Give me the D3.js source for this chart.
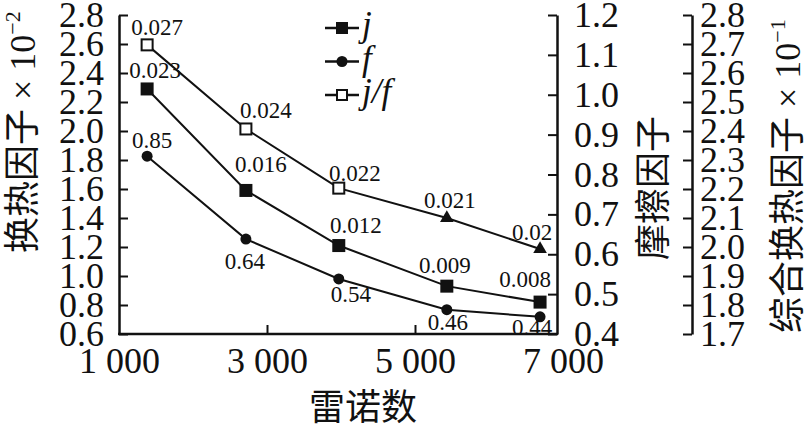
<!DOCTYPE html>
<html>
<head>
<meta charset="utf-8">
<script src="https://cdn.jsdelivr.net/npm/d3@7"></script>
<style>
  html, body { margin: 0; padding: 0; background: #fff; }
  svg { display: block; }
</style>
</head>
<body>
<svg id="chart" width="805" height="425"></svg>
<script>
// ---------------- data ----------------
const reynolds   = [1380, 2715, 3970, 5430, 6690];
const jValues    = [2.29, 1.59, 1.21, 0.93, 0.82];      // ×10^-2, left axis
const fValues    = [0.846, 0.638, 0.538, 0.461, 0.443]; // friction axis
const jfValues   = [2.697, 2.407, 2.203, 2.10, 1.993];  // ×10^-1, third axis
const jLabels    = ["0.023", "0.016", "0.012", "0.009", "0.008"];
const fLabels    = ["0.85", "0.64", "0.54", "0.46", "0.44"];
const jfLabels   = ["0.027", "0.024", "0.022", "0.021", "0.02"];
const jfSymbols  = ["square", "square", "square", "triangle", "triangle"];

const xTickValues    = [1000, 3000, 5000, 7000];
const leftTickValues = [0.6, 0.8, 1.0, 1.2, 1.4, 1.6, 1.8, 2.0, 2.2, 2.4, 2.6, 2.8];
const fTickValues    = [0.4, 0.5, 0.6, 0.7, 0.8, 0.9, 1.0, 1.1, 1.2];
const jfTickValues   = [1.7, 1.8, 1.9, 2.0, 2.1, 2.2, 2.3, 2.4, 2.5, 2.6, 2.7, 2.8];

const legendItems = ["j", "f", "j/f"];

// label offsets (layout only): [dx, dy] relative to point
const jfLabelOffsets = [[10, -10], [20, -11], [16, -7], [3, -10], [-8, -9]];
const jLabelOffsets  = [[8, -11], [15, -18], [17, -13], [-2, -13], [-15, -15]];
const fLabelOffsets  = [[5, -8], [-1, 30], [12, 23], [1, 20], [-8, 18]];

// ---------------- layout ----------------
const serif = "'Liberation Serif', 'Times New Roman', serif";
const cjk = "'Noto Sans CJK SC', sans-serif";
const plotLeft = 119, plotRight = 557, plotTop = 15, plotBottom = 334;
const thirdAxisX = 692;
const tickFont = 36;

const svg = d3.select("#chart");
const x   = d3.scaleLinear().domain([1000, 7000]).range([plotLeft, 563]);
const yJ  = d3.scaleLinear().domain([0.6, 2.8]).range([plotBottom, plotTop]);
const yF  = d3.scaleLinear().domain([0.4, 1.2]).range([plotBottom, plotTop]);
const yJF = d3.scaleLinear().domain([1.7, 2.8]).range([plotBottom, plotTop]);

function styleAxis(g, size) {
  g.selectAll("path.domain").attr("stroke", "#111").attr("stroke-width", 2.5);
  g.selectAll(".tick line").attr("stroke", "#111").attr("stroke-width", 2);
  g.selectAll(".tick text").attr("font-family", serif).attr("font-size", size).attr("fill", "#111");
}

// left axis
const gL = svg.append("g").attr("transform", `translate(${plotLeft},0)`)
  .call(d3.axisLeft(yJ).tickValues(leftTickValues).tickFormat(d3.format(".1f"))
    .tickSizeInner(-9).tickSizeOuter(0).tickPadding(15));
styleAxis(gL, tickFont);

// friction axis
const gF = svg.append("g").attr("transform", `translate(${plotRight},0)`)
  .call(d3.axisRight(yF).tickValues(fTickValues).tickFormat(d3.format(".1f"))
    .tickSizeInner(-9).tickSizeOuter(0).tickPadding(17));
styleAxis(gF, tickFont);

// third axis
const gJF = svg.append("g").attr("transform", `translate(${thirdAxisX},0)`)
  .call(d3.axisRight(yJF).tickValues(jfTickValues).tickFormat(d3.format(".1f"))
    .tickSizeInner(-9).tickSizeOuter(0).tickPadding(8));
styleAxis(gJF, tickFont);

// bottom axis
const fmtX = d => d3.format(",")(d).replace(/,/g, " ");
const gX = svg.append("g").attr("transform", `translate(0,${plotBottom})`)
  .call(d3.axisBottom(x).tickValues(xTickValues).tickFormat(fmtX)
    .tickSizeInner(-9).tickSizeOuter(0).tickPadding(13));
gX.select("path.domain").remove();
gX.selectAll(".tick line").filter(d => x(d) <= plotLeft + 1 || x(d) >= plotRight - 1).remove();
styleAxis(gX, tickFont);
gX.append("line").attr("x1", plotLeft - 1).attr("x2", plotRight + 1)
  .attr("y1", 0).attr("y2", 0).attr("stroke", "#111").attr("stroke-width", 2.5);

// ---------------- series ----------------
const lineGen = (yScale, vals) => d3.line().x((d, i) => x(reynolds[i])).y((d, i) => yScale(vals[i]))(vals);
[[yJF, jfValues], [yJ, jValues], [yF, fValues]].forEach(([ys, vals]) => {
  svg.append("path").attr("d", lineGen(ys, vals))
    .attr("fill", "none").attr("stroke", "#111").attr("stroke-width", 2);
});

// j markers: filled squares
svg.selectAll("rect.j").data(jValues).enter().append("rect")
  .attr("x", (d, i) => x(reynolds[i]) - 6.5).attr("y", d => yJ(d) - 6.5)
  .attr("width", 13).attr("height", 13).attr("fill", "#111");

// f markers: filled circles
svg.selectAll("circle.f").data(fValues).enter().append("circle")
  .attr("cx", (d, i) => x(reynolds[i])).attr("cy", d => yF(d))
  .attr("r", 5.5).attr("fill", "#111");

// j/f markers
svg.selectAll("g.jf").data(jfValues).enter().append("g")
  .attr("transform", (d, i) => `translate(${x(reynolds[i])},${yJF(d)})`)
  .each(function (d, i) {
    const g = d3.select(this);
    if (jfSymbols[i] === "triangle") {
      g.append("path").attr("d", d3.symbol(d3.symbolTriangle, 80)()).attr("fill", "#111");
    } else {
      g.append("rect").attr("x", -5.5).attr("y", -5.5).attr("width", 11).attr("height", 11)
        .attr("fill", "#fff").attr("stroke", "#111").attr("stroke-width", 2);
    }
  });

// data labels
function addLabels(vals, yScale, labels, offsets) {
  svg.append("g").selectAll("text").data(vals).enter().append("text")
    .attr("x", (d, i) => x(reynolds[i]) + offsets[i][0])
    .attr("y", (d, i) => yScale(d) + offsets[i][1])
    .attr("text-anchor", "middle")
    .attr("font-family", serif).attr("font-size", 23).attr("fill", "#111")
    .text((d, i) => labels[i]);
}
addLabels(jfValues, yJF, jfLabels, jfLabelOffsets);
addLabels(jValues, yJ, jLabels, jLabelOffsets);
addLabels(fValues, yF, fLabels, fLabelOffsets);

// ---------------- legend ----------------
const legend = svg.append("g").attr("transform", "translate(325,28)");
legendItems.forEach((name, i) => {
  const g = legend.append("g").attr("transform", `translate(0,${i * 33.5})`);
  g.append("line").attr("x1", 0).attr("x2", 34).attr("y1", 0).attr("y2", 0)
    .attr("stroke", "#111").attr("stroke-width", 2.5);
  if (i === 0) {
    g.append("rect").attr("x", 11).attr("y", -6).attr("width", 12).attr("height", 12).attr("fill", "#111");
  } else if (i === 1) {
    g.append("circle").attr("cx", 17).attr("cy", 0).attr("r", 5.5).attr("fill", "#111");
  } else {
    g.append("rect").attr("x", 12).attr("y", -5).attr("width", 10).attr("height", 10)
      .attr("fill", "#fff").attr("stroke", "#111").attr("stroke-width", 2);
  }
  g.append("text").attr("x", 37).attr("y", 8)
    .attr("font-family", serif).attr("font-style", "italic").attr("font-size", 35)
    .attr("fill", "#111").text(name);
});

// ---------------- axis titles ----------------
function rotTitle(tx, ty, cjkText, exp) {
  const t = svg.append("text").attr("transform", `translate(${tx},${ty}) rotate(-90)`)
    .attr("text-anchor", "start").attr("fill", "#111");
  t.append("tspan").attr("font-family", cjk).attr("font-size", 36).text(cjkText);
  if (exp) {
    t.append("tspan").attr("font-family", serif).attr("font-size", 36).text(" × 10");
    t.append("tspan").attr("font-family", serif).attr("font-size", 22).attr("dy", -15).text(exp);
  }
}
rotTitle(35, 253, "换热因子", "−2");
rotTitle(666, 260, "摩擦因子", null);
rotTitle(800, 333, "综合换热因子", "−1");

svg.append("text").attr("x", 363).attr("y", 420)
  .attr("text-anchor", "middle").attr("font-family", cjk).attr("font-size", 36)
  .attr("fill", "#111").text("雷诺数");
</script>
</body>
</html>
